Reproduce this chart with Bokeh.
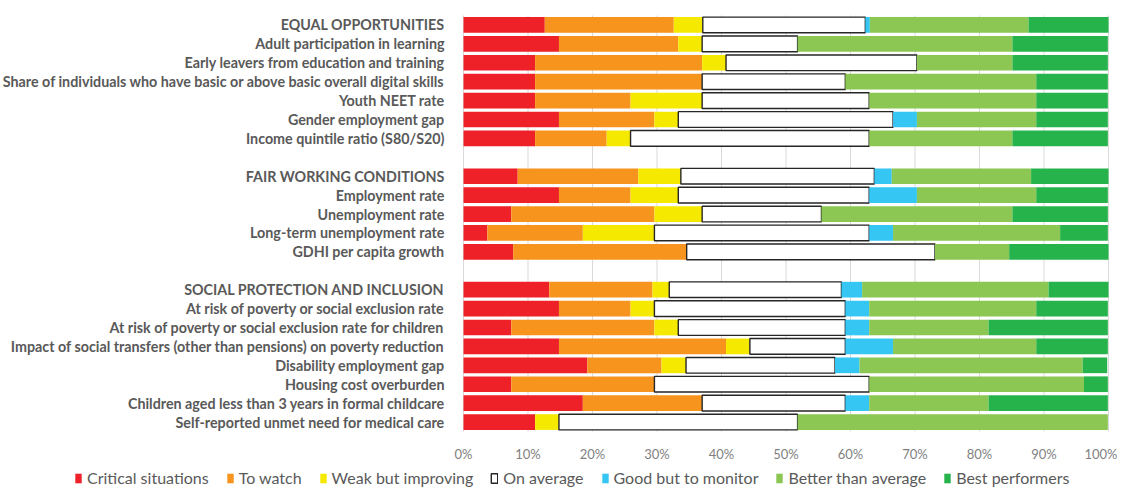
from bokeh.plotting import figure
from bokeh.models import (ColumnDataSource, Range1d, FixedTicker, NumeralTickFormatter, Legend,
                          LegendItem, LinearAxis)
from bokeh.embed import file_html
from bokeh.resources import INLINE

# ---------------- data ----------------
groups = [
    ["EQUAL OPPORTUNITIES",
     "Adult participation in learning",
     "Early leavers from education and training",
     "Share of individuals who have basic or above basic overall digital skills",
     "Youth NEET rate",
     "Gender employment gap",
     "Income quintile ratio (S80/S20)"],
    ["FAIR WORKING CONDITIONS",
     "Employment rate",
     "Unemployment rate",
     "Long-term unemployment rate",
     "GDHI per capita growth"],
    ["SOCIAL PROTECTION AND INCLUSION",
     "At risk of poverty or social exclusion rate",
     "At risk of poverty or social exclusion rate for children",
     "Impact of social transfers (other than pensions) on poverty reduction",
     "Disability employment gap",
     "Housing cost overburden",
     "Children aged less than 3 years in formal childcare",
     "Self-reported unmet need for medical care"],
]

series = ["Critical situations", "To watch", "Weak but improving", "On average",
          "Good but to monitor", "Better than average", "Best performers"]

critical = [12.6, 14.8, 11.1, 11.1, 11.1, 14.8, 11.1,
            8.4, 14.8, 7.4, 3.7, 7.7,
            13.3, 14.8, 7.4, 14.8, 19.2, 7.4, 18.5, 11.1]
to_watch = [20.0, 18.5, 25.9, 25.9, 14.8, 14.8, 11.1,
            18.7, 11.1, 22.2, 14.8, 26.9,
            16.0, 11.1, 22.2, 25.9, 11.5, 22.2, 18.5, 0.0]
weak_improving = [4.5, 3.7, 3.7, 0.0, 11.1, 3.7, 3.7,
                  6.6, 7.4, 7.4, 11.1, 0.0,
                  2.6, 3.7, 3.7, 3.7, 3.8, 0.0, 0.0, 3.7]
on_average = [25.2, 14.8, 29.6, 22.2, 25.9, 33.3, 37.0,
              30.0, 29.6, 18.5, 33.3, 38.5,
              26.7, 29.6, 25.9, 14.8, 23.1, 33.3, 22.2, 37.0]
good_monitor = [0.7, 0.0, 0.0, 0.0, 0.0, 3.7, 0.0,
                2.7, 7.4, 0.0, 3.7, 0.0,
                3.2, 3.7, 3.7, 7.4, 3.8, 0.0, 3.7, 0.0]
better_avg = [24.6, 33.3, 14.8, 29.6, 25.9, 18.5, 22.2,
              21.6, 18.5, 29.6, 25.9, 11.5,
              28.9, 25.9, 18.5, 22.2, 34.6, 33.3, 18.5, 48.1]
best = [12.4, 14.8, 14.8, 11.1, 11.1, 11.1, 14.8,
        12.0, 11.1, 14.8, 7.4, 15.4,
        9.3, 11.1, 18.5, 11.1, 3.8, 3.7, 18.5, 0.0]

x_ticks = [0, 0.1, 0.2, 0.3, 0.4, 0.5, 0.6, 0.7, 0.8, 0.9, 1.0]

colors = ["#ED2127", "#F7941E", "#F5E900", "#FFFFFF", "#35C6F4", "#8CC653", "#27B34B"]
outline = [None, None, None, "#262626", None, None, None]

# ---------------- layout of rows ----------------
labels, ypos = [], []
slot = 0
for g in groups:
    for lab in g:
        labels.append(lab)
        ypos.append(slot)
        slot += 1
    slot += 1
n_slots = slot - 1

keys = ["critical", "to_watch", "weak", "avg", "good", "better", "best"]
vals = [critical, to_watch, weak_improving, on_average, good_monitor, better_avg, best]
data = {"y": ypos}
for k, v in zip(keys, vals):
    data[k] = [x / 100.0 for x in v]
src = ColumnDataSource(data)

# ---------------- geometry (pixels) ----------------
W, H = 1117, 487
bar_left, bar_right = 463, 1108        # 0% and 100%
bar_top, bar_bottom = 15, 431          # extent of the row slots
px_per_unit = bar_right - bar_left
px_per_slot = (bar_bottom - bar_top) / n_slots

x_range = Range1d(-bar_left / px_per_unit, (W - bar_left) / px_per_unit)
y_range = Range1d(n_slots - 0.5 + (H - bar_bottom) / px_per_slot,
                  -0.5 - bar_top / px_per_slot)

p = figure(width=W, height=H, output_backend="svg", toolbar_location=None,
           x_range=x_range, y_range=y_range,
           x_axis_location=None, y_axis_location=None,
           min_border_left=0, min_border_right=0, min_border_top=0, min_border_bottom=0)
p.outline_line_color = None
p.background_fill_color = "white"
p.grid.visible = False

# vertical grid lines at the tick positions, spanning the rows only
p.segment(x0=x_ticks, x1=x_ticks, y0=[-0.5] * len(x_ticks), y1=[n_slots - 0.5] * len(x_ticks),
          line_color="#D9D9D9", line_width=1)

rs = p.hbar_stack(keys, y="y", height=0.83, source=src, color=colors,
                  line_color=outline, line_width=[1, 1, 1, 1.4, 1, 1, 1])

# axes placed at fixed data positions
xaxis = LinearAxis(fixed_location=n_slots - 0.5, ticker=FixedTicker(ticks=x_ticks),
                   formatter=NumeralTickFormatter(format="0%"))
xaxis.axis_line_color = None
xaxis.major_tick_line_color = None
xaxis.minor_tick_line_color = None
xaxis.major_label_standoff = 8
xaxis.major_label_text_font = "Lato"
xaxis.major_label_text_font_size = "13px"
xaxis.major_label_text_color = "#7F7F7F"
p.add_layout(xaxis, "below")

yaxis = LinearAxis(fixed_location=0, ticker=FixedTicker(ticks=ypos))
yaxis.major_label_overrides = {y: lab for y, lab in zip(ypos, labels)}
yaxis.axis_line_color = None
yaxis.major_tick_line_color = None
yaxis.minor_tick_line_color = None
yaxis.major_label_standoff = 13
yaxis.major_label_text_font = "Lato"
yaxis.major_label_text_font_style = "bold"
yaxis.major_label_text_font_size = "14.3px"
yaxis.major_label_text_color = "#595959"
p.add_layout(yaxis, "left")

legend = Legend(items=[LegendItem(label=s, renderers=[r]) for s, r in zip(series, rs)],
                orientation="horizontal", location=(74, 0),
                glyph_width=8, glyph_height=12, label_standoff=5, spacing=17,
                padding=0, margin=0, border_line_color=None, background_fill_alpha=0,
                label_text_font="Lato", label_text_font_size="16px",
                label_text_color="#595959")
p.add_layout(legend, "center")

open("out.html", "w").write(file_html(p, INLINE))
